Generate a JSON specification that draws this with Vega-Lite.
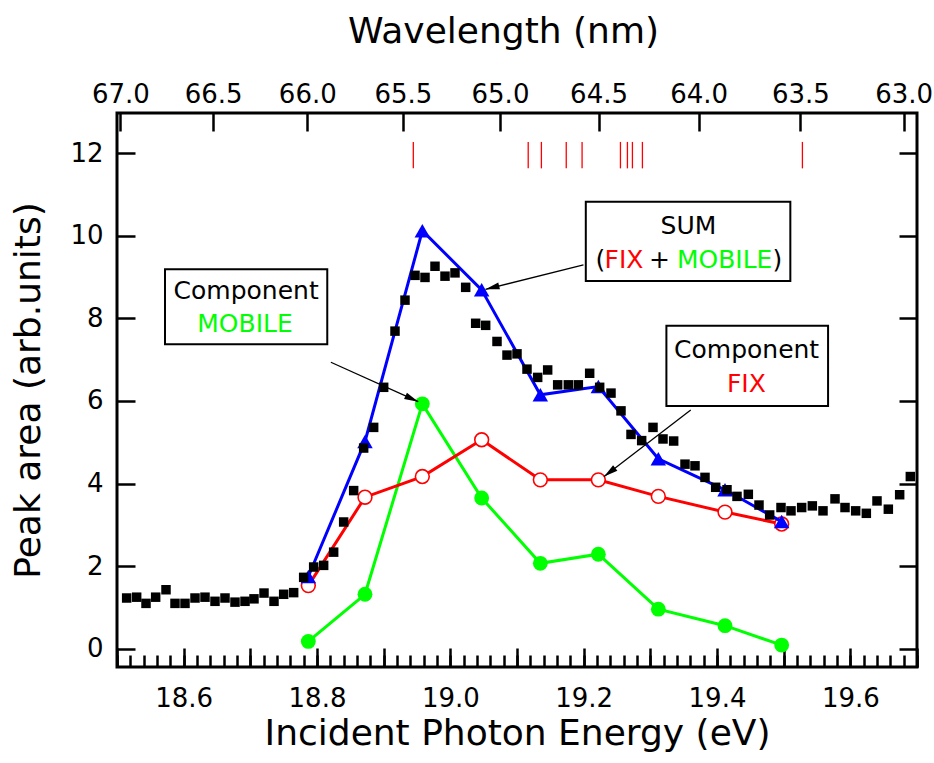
{
  "$schema": "https://vega.github.io/schema/vega-lite/v6.json",
  "width": 800,
  "height": 554,
  "autosize": {"type": "none"},
  "padding": {"left": 117, "top": 113, "right": 17, "bottom": 96},
  "background": "white",
  "config": {
    "view": {"stroke": "black", "strokeWidth": 3},
    "axis": {
      "labelFont": "DejaVu Sans", "titleFont": "DejaVu Sans",
      "labelFontSize": 26, "titleFontSize": 36, "titleFontWeight": "normal",
      "labelColor": "black", "titleColor": "black", "tickColor": "black",
      "tickWidth": 2.5, "grid": false, "domain": false,
      "labelFlush": false, "labelOverlap": false
    },
    "text": {"font": "DejaVu Sans"}
  },
  "datasets": {
    "measured": [
      {"E": 18.5145, "val": 1.23}, {"E": 18.5295, "val": 1.25}, {"E": 18.5435, "val": 1.10},
      {"E": 18.558, "val": 1.25}, {"E": 18.5735, "val": 1.43}, {"E": 18.587, "val": 1.10},
      {"E": 18.602, "val": 1.10}, {"E": 18.617, "val": 1.23}, {"E": 18.632, "val": 1.25},
      {"E": 18.647, "val": 1.15}, {"E": 18.662, "val": 1.23}, {"E": 18.677, "val": 1.13},
      {"E": 18.692, "val": 1.15}, {"E": 18.7055, "val": 1.21}, {"E": 18.7205, "val": 1.35},
      {"E": 18.7355, "val": 1.15}, {"E": 18.750, "val": 1.32}, {"E": 18.765, "val": 1.36},
      {"E": 18.780, "val": 1.73}, {"E": 18.795, "val": 1.98}, {"E": 18.810, "val": 2.02},
      {"E": 18.825, "val": 2.34}, {"E": 18.840, "val": 3.07}, {"E": 18.855, "val": 3.83},
      {"E": 18.870, "val": 4.86}, {"E": 18.885, "val": 5.36}, {"E": 18.900, "val": 6.33},
      {"E": 18.917, "val": 7.69}, {"E": 18.932, "val": 8.44}, {"E": 18.947, "val": 9.04},
      {"E": 18.962, "val": 8.99}, {"E": 18.977, "val": 9.26}, {"E": 18.992, "val": 9.02},
      {"E": 19.007, "val": 9.10}, {"E": 19.023, "val": 8.75}, {"E": 19.038, "val": 7.88},
      {"E": 19.053, "val": 7.83}, {"E": 19.070, "val": 7.44}, {"E": 19.085, "val": 7.11},
      {"E": 19.100, "val": 7.14}, {"E": 19.115, "val": 6.77}, {"E": 19.131, "val": 6.57},
      {"E": 19.146, "val": 6.75}, {"E": 19.161, "val": 6.39}, {"E": 19.177, "val": 6.39},
      {"E": 19.192, "val": 6.39}, {"E": 19.209, "val": 6.67}, {"E": 19.224, "val": 6.33},
      {"E": 19.241, "val": 6.19}, {"E": 19.256, "val": 5.76}, {"E": 19.271, "val": 5.19},
      {"E": 19.287, "val": 5.04}, {"E": 19.304, "val": 5.36}, {"E": 19.319, "val": 5.08},
      {"E": 19.335, "val": 5.03}, {"E": 19.352, "val": 4.47}, {"E": 19.367, "val": 4.43},
      {"E": 19.382, "val": 4.15}, {"E": 19.398, "val": 3.91}, {"E": 19.415, "val": 3.85},
      {"E": 19.430, "val": 3.69}, {"E": 19.447, "val": 3.74}, {"E": 19.463, "val": 3.48},
      {"E": 19.479, "val": 3.24}, {"E": 19.496, "val": 3.42}, {"E": 19.511, "val": 3.34},
      {"E": 19.527, "val": 3.42}, {"E": 19.543, "val": 3.46}, {"E": 19.559, "val": 3.34},
      {"E": 19.577, "val": 3.63}, {"E": 19.592, "val": 3.42}, {"E": 19.608, "val": 3.34},
      {"E": 19.624, "val": 3.28}, {"E": 19.640, "val": 3.58}, {"E": 19.657, "val": 3.38},
      {"E": 19.674, "val": 3.73}, {"E": 19.690, "val": 4.17}
    ],
    "components": [
      {"E": 18.787, "val": 1.75, "series": "SUM"}, {"E": 18.872, "val": 5.02, "series": "SUM"},
      {"E": 18.958, "val": 10.12, "series": "SUM"}, {"E": 19.047, "val": 8.69, "series": "SUM"},
      {"E": 19.135, "val": 6.15, "series": "SUM"}, {"E": 19.222, "val": 6.35, "series": "SUM"},
      {"E": 19.312, "val": 4.6, "series": "SUM"}, {"E": 19.412, "val": 3.85, "series": "SUM"},
      {"E": 19.497, "val": 3.08, "series": "SUM"},
      {"E": 18.787, "val": 1.53, "series": "FIX"}, {"E": 18.872, "val": 3.67, "series": "FIX"},
      {"E": 18.958, "val": 4.17, "series": "FIX"}, {"E": 19.047, "val": 5.06, "series": "FIX"},
      {"E": 19.135, "val": 4.09, "series": "FIX"}, {"E": 19.222, "val": 4.09, "series": "FIX"},
      {"E": 19.312, "val": 3.69, "series": "FIX"}, {"E": 19.412, "val": 3.31, "series": "FIX"},
      {"E": 19.497, "val": 3.02, "series": "FIX"},
      {"E": 18.787, "val": 0.18, "series": "MOBILE"}, {"E": 18.872, "val": 1.32, "series": "MOBILE"},
      {"E": 18.958, "val": 5.93, "series": "MOBILE"}, {"E": 19.047, "val": 3.65, "series": "MOBILE"},
      {"E": 19.135, "val": 2.07, "series": "MOBILE"}, {"E": 19.222, "val": 2.29, "series": "MOBILE"},
      {"E": 19.312, "val": 0.96, "series": "MOBILE"}, {"E": 19.412, "val": 0.56, "series": "MOBILE"},
      {"E": 19.497, "val": 0.09, "series": "MOBILE"}
    ],
    "lines": [
      {"nm": 65.446, "lo": 11.63, "hi": 12.27}, {"nm": 64.856, "lo": 11.63, "hi": 12.27},
      {"nm": 64.789, "lo": 11.63, "hi": 12.27}, {"nm": 64.663, "lo": 11.63, "hi": 12.27},
      {"nm": 64.583, "lo": 11.63, "hi": 12.27}, {"nm": 64.390, "lo": 11.63, "hi": 12.27},
      {"nm": 64.355, "lo": 11.63, "hi": 12.27}, {"nm": 64.330, "lo": 11.63, "hi": 12.27},
      {"nm": 64.280, "lo": 11.63, "hi": 12.27}, {"nm": 63.490, "lo": 11.63, "hi": 12.27}
    ],
    "boxes": [
      {"E1": 18.572, "E2": 18.8154, "v1": 9.187, "v2": 7.372},
      {"E1": 19.2032, "E2": 19.51, "v1": 10.823, "v2": 8.904},
      {"E1": 19.3241, "E2": 19.5666, "v1": 7.822, "v2": 5.879}
    ],
    "labels": [
      {"E": 18.6937, "val": 8.461, "text": "Component", "kind": "plain"},
      {"E": 18.692, "val": 7.677, "text": "MOBILE", "kind": "MOBILE"},
      {"E": 19.3571, "val": 10.041, "text": "SUM", "kind": "plain"},
      {"E": 19.2252, "val": 9.226, "text": "(", "kind": "plain"},
      {"E": 19.2604, "val": 9.226, "text": "FIX", "kind": "FIX"},
      {"E": 19.3136, "val": 9.226, "text": "+", "kind": "plain"},
      {"E": 19.4115, "val": 9.226, "text": "MOBILE", "kind": "MOBILE"},
      {"E": 19.4906, "val": 9.226, "text": ")", "kind": "plain"},
      {"E": 19.4444, "val": 7.034, "text": "Component", "kind": "plain"},
      {"E": 19.4441, "val": 6.226, "text": "FIX", "kind": "FIX"}
    ],
    "arrows": [
      {"name": "mobile", "E": 18.8208, "val": 6.937, "E2": 18.9519, "val2": 5.983},
      {"name": "sum", "E": 19.1997, "val": 9.291, "E2": 19.0528, "val2": 8.703},
      {"name": "fix", "E": 19.3606, "val": 5.783, "E2": 19.2307, "val2": 4.169}
    ]
  },
  "layer": [
    {
      "layer": [
        {
          "data": {"values": [{"E": 19.0, "val": 5}]},
          "mark": {"type": "point", "opacity": 0},
          "encoding": {
            "x": {"field": "E", "type": "quantitative",
              "scale": {"domain": [18.5, 19.7], "nice": false, "zero": false},
              "axis": {"orient": "bottom", "title": "Incident Photon Energy (eV)",
                "values": [18.5, 18.6, 18.7, 18.8, 18.9, 19.0, 19.1, 19.2, 19.3, 19.4, 19.5, 19.6, 19.7],
                "labelExpr": "abs(round(datum.value*10) % 2) == 0 ? format(datum.value, '.1f') : ''",
                "tickSize": -19, "labelPadding": 37, "titlePadding": 5}},
            "y": {"field": "val", "type": "quantitative",
              "scale": {"domain": [-0.44, 12.97], "nice": false, "zero": false},
              "axis": {"orient": "left", "title": "Peak area (arb.units)",
                "values": [0, 2, 4, 6, 8, 10, 12],
                "tickSize": -18, "labelPadding": 32, "titlePadding": 22}}
          }
        },
        {
          "data": {"values": [{"E": 19.0, "val": 5}]},
          "mark": {"type": "point", "opacity": 0},
          "encoding": {
            "x": {"field": "E", "type": "quantitative",
              "scale": {"domain": [18.5, 19.7], "nice": false, "zero": false},
              "axis": {"orient": "bottom", "title": null, "labels": false, "tickSize": -12,
                "values": [18.5,18.52,18.54,18.56,18.58,18.6,18.62,18.64,18.66,18.68,18.7,18.72,18.74,18.76,18.78,18.8,18.82,18.84,18.86,18.88,18.9,18.92,18.94,18.96,18.98,19,19.02,19.04,19.06,19.08,19.1,19.12,19.14,19.16,19.18,19.2,19.22,19.24,19.26,19.28,19.3,19.32,19.34,19.36,19.38,19.4,19.42,19.44,19.46,19.48,19.5,19.52,19.54,19.56,19.58,19.6,19.62,19.64,19.66,19.68,19.7]}},
            "y": {"field": "val", "type": "quantitative",
              "scale": {"domain": [-0.44, 12.97], "nice": false, "zero": false},
              "axis": {"orient": "right", "title": null, "labels": false, "tickSize": -18,
                "values": [0, 2, 4, 6, 8, 10, 12]}}
          }
        },
        {
          "data": {"name": "components"},
          "transform": [{"filter": "datum.series == 'MOBILE'"}],
          "mark": {"type": "line", "color": "#00ff00", "strokeWidth": 3},
          "encoding": {
            "x": {"field": "E", "type": "quantitative", "scale": {"domain": [18.5, 19.7], "nice": false, "zero": false}, "axis": null},
            "y": {"field": "val", "type": "quantitative", "scale": {"domain": [-0.44, 12.97], "nice": false, "zero": false}, "axis": null}
          }
        },
        {
          "data": {"name": "components"},
          "transform": [{"filter": "datum.series == 'MOBILE'"}],
          "mark": {"type": "point", "shape": "circle", "filled": true, "color": "#00ff00", "opacity": 1, "size": 220},
          "encoding": {
            "x": {"field": "E", "type": "quantitative", "scale": {"domain": [18.5, 19.7], "nice": false, "zero": false}, "axis": null},
            "y": {"field": "val", "type": "quantitative", "scale": {"domain": [-0.44, 12.97], "nice": false, "zero": false}, "axis": null}
          }
        },
        {
          "data": {"name": "components"},
          "transform": [{"filter": "datum.series == 'FIX'"}],
          "mark": {"type": "line", "color": "#ff0000", "strokeWidth": 3},
          "encoding": {
            "x": {"field": "E", "type": "quantitative", "scale": {"domain": [18.5, 19.7], "nice": false, "zero": false}, "axis": null},
            "y": {"field": "val", "type": "quantitative", "scale": {"domain": [-0.44, 12.97], "nice": false, "zero": false}, "axis": null}
          }
        },
        {
          "data": {"name": "components"},
          "transform": [{"filter": "datum.series == 'FIX'"}],
          "mark": {"type": "point", "shape": "circle", "filled": true, "fill": "white", "stroke": "#ff0000", "strokeWidth": 1.6, "opacity": 1, "size": 190},
          "encoding": {
            "x": {"field": "E", "type": "quantitative", "scale": {"domain": [18.5, 19.7], "nice": false, "zero": false}, "axis": null},
            "y": {"field": "val", "type": "quantitative", "scale": {"domain": [-0.44, 12.97], "nice": false, "zero": false}, "axis": null}
          }
        },
        {
          "data": {"name": "components"},
          "transform": [{"filter": "datum.series == 'SUM'"}],
          "mark": {"type": "line", "color": "#0000ff", "strokeWidth": 3},
          "encoding": {
            "x": {"field": "E", "type": "quantitative", "scale": {"domain": [18.5, 19.7], "nice": false, "zero": false}, "axis": null},
            "y": {"field": "val", "type": "quantitative", "scale": {"domain": [-0.44, 12.97], "nice": false, "zero": false}, "axis": null}
          }
        },
        {
          "data": {"name": "components"},
          "transform": [{"filter": "datum.series == 'SUM'"}],
          "mark": {"type": "point", "shape": "triangle-up", "filled": true, "color": "#0000ff", "opacity": 1, "size": 240},
          "encoding": {
            "x": {"field": "E", "type": "quantitative", "scale": {"domain": [18.5, 19.7], "nice": false, "zero": false}, "axis": null},
            "y": {"field": "val", "type": "quantitative", "scale": {"domain": [-0.44, 12.97], "nice": false, "zero": false}, "axis": null}
          }
        },
        {
          "data": {"name": "measured"},
          "mark": {"type": "point", "shape": "square", "filled": true, "color": "black", "opacity": 1, "size": 90},
          "encoding": {
            "x": {"field": "E", "type": "quantitative", "scale": {"domain": [18.5, 19.7], "nice": false, "zero": false}, "axis": null},
            "y": {"field": "val", "type": "quantitative", "scale": {"domain": [-0.44, 12.97], "nice": false, "zero": false}, "axis": null}
          }
        },
        {
          "data": {"name": "arrows"},
          "mark": {"type": "rule", "color": "black", "strokeWidth": 1.3},
          "encoding": {
            "x": {"field": "E", "type": "quantitative", "scale": {"domain": [18.5, 19.7], "nice": false, "zero": false}, "axis": null},
            "y": {"field": "val", "type": "quantitative", "scale": {"domain": [-0.44, 12.97], "nice": false, "zero": false}, "axis": null},
            "x2": {"field": "E2"},
            "y2": {"field": "val2"}
          }
        },
        {
          "data": {"name": "arrows"},
          "transform": [{"filter": "datum.name == 'mobile'"}],
          "mark": {"type": "point", "shape": "M0,0L0.5,2L-0.5,2Z", "angle": 114.3, "filled": true, "color": "black", "opacity": 1, "size": 196},
          "encoding": {
            "x": {"field": "E2", "type": "quantitative", "scale": {"domain": [18.5, 19.7], "nice": false, "zero": false}, "axis": null},
            "y": {"field": "val2", "type": "quantitative", "scale": {"domain": [-0.44, 12.97], "nice": false, "zero": false}, "axis": null}
          }
        },
        {
          "data": {"name": "arrows"},
          "transform": [{"filter": "datum.name == 'sum'"}],
          "mark": {"type": "point", "shape": "M0,0L0.5,2L-0.5,2Z", "angle": 256.1, "filled": true, "color": "black", "opacity": 1, "size": 196},
          "encoding": {
            "x": {"field": "E2", "type": "quantitative", "scale": {"domain": [18.5, 19.7], "nice": false, "zero": false}, "axis": null},
            "y": {"field": "val2", "type": "quantitative", "scale": {"domain": [-0.44, 12.97], "nice": false, "zero": false}, "axis": null}
          }
        },
        {
          "data": {"name": "arrows"},
          "transform": [{"filter": "datum.name == 'fix'"}],
          "mark": {"type": "point", "shape": "M0,0L0.5,2L-0.5,2Z", "angle": 232.4, "filled": true, "color": "black", "opacity": 1, "size": 196},
          "encoding": {
            "x": {"field": "E2", "type": "quantitative", "scale": {"domain": [18.5, 19.7], "nice": false, "zero": false}, "axis": null},
            "y": {"field": "val2", "type": "quantitative", "scale": {"domain": [-0.44, 12.97], "nice": false, "zero": false}, "axis": null}
          }
        },
        {
          "data": {"name": "boxes"},
          "mark": {"type": "rect", "fill": "white", "stroke": "black", "strokeWidth": 2},
          "encoding": {
            "x": {"field": "E1", "type": "quantitative", "scale": {"domain": [18.5, 19.7], "nice": false, "zero": false}, "axis": null},
            "x2": {"field": "E2"},
            "y": {"field": "v1", "type": "quantitative", "scale": {"domain": [-0.44, 12.97], "nice": false, "zero": false}, "axis": null},
            "y2": {"field": "v2"}
          }
        },
        {
          "data": {"name": "labels"},
          "mark": {"type": "text", "fontSize": 25, "align": "center", "baseline": "alphabetic"},
          "encoding": {
            "x": {"field": "E", "type": "quantitative", "scale": {"domain": [18.5, 19.7], "nice": false, "zero": false}, "axis": null},
            "y": {"field": "val", "type": "quantitative", "scale": {"domain": [-0.44, 12.97], "nice": false, "zero": false}, "axis": null},
            "text": {"field": "text"},
            "color": {"field": "kind", "type": "nominal",
              "scale": {"domain": ["plain", "FIX", "MOBILE"], "range": ["black", "#ff0000", "#00ff00"]},
              "legend": null}
          }
        }
      ],
      "resolve": {"axis": {"x": "independent", "y": "independent"}}
    },
    {
      "data": {"name": "lines"},
      "mark": {"type": "rule", "color": "#ff0000", "strokeWidth": 1.3},
      "encoding": {
        "x": {"field": "nm", "type": "quantitative",
          "scale": {"type": "pow", "exponent": -1, "domain": [67.0184, 62.936], "nice": false, "zero": false},
          "axis": {"orient": "top", "title": "Wavelength (nm)",
            "values": [67.0, 66.5, 66.0, 65.5, 65.0, 64.5, 64.0, 63.5, 63.0],
            "format": ".1f", "tickSize": -18, "labelPadding": 24, "titlePadding": 31, "titleX": 386}},
        "y": {"field": "lo", "type": "quantitative", "scale": {"domain": [-0.44, 12.97], "nice": false, "zero": false}, "axis": null},
        "y2": {"field": "hi"}
      }
    }
  ],
  "resolve": {"scale": {"x": "independent"}}
}
